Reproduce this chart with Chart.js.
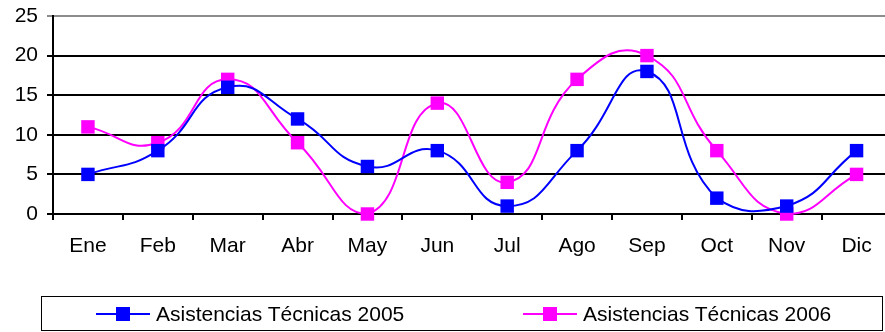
<!DOCTYPE html>
<html>
<head>
<meta charset="utf-8">
<script src="https://cdn.jsdelivr.net/npm/chart.js@4"></script>
<style>
	html, body { margin: 0; padding: 0; background: #fff; overflow: hidden; }
	.wrap { position: relative; width: 901px; height: 332px; overflow: hidden; }
	.wrap canvas { position: absolute; left: 0; top: 0; }
	.legend {
		position: absolute; left: 41px; top: 296px; width: 840px; height: 33px;
		border: 1.5px solid #000; box-sizing: content-box;
		font-family: "Liberation Sans", Arial, sans-serif; font-size: 21px; color: #000;
	}
	.legend .item { position: absolute; top: 0; height: 33px; display: flex; align-items: center; }
	.legend .sym { position: relative; width: 54px; height: 14px; margin-right: 6px; }
	.legend .sym .ln { position: absolute; left: 0; right: 0; top: 6px; height: 2px; }
	.legend .sym .mk { position: absolute; left: 20px; top: 0; width: 14px; height: 14px; }
</style>
</head>
<body>
<div class="wrap">
	<canvas id="chart" width="901" height="332"></canvas>
	<div class="legend" id="legend"></div>
</div>
<script>
const meses = ['Ene', 'Feb', 'Mar', 'Abr', 'May', 'Jun', 'Jul', 'Ago', 'Sep', 'Oct', 'Nov', 'Dic'];
const asistencias2005 = [5, 8, 16, 12, 6, 8, 1, 8, 18, 2, 1, 8];
const asistencias2006 = [11, 9, 17, 9, 0, 14, 4, 17, 20, 8, 0, 5];
const yTicks = [0, 5, 10, 15, 20, 25];

const series = [
	{label: 'Asistencias Técnicas 2005', data: asistencias2005, color: '#0000ff'},
	{label: 'Asistencias Técnicas 2006', data: asistencias2006, color: '#ff00ff'},
];

const font = {family: '"Liberation Sans", Arial, sans-serif', size: 21};

const ctx = document.getElementById('chart').getContext('2d');
new Chart(ctx, {
	type: 'line',
	data: {
		labels: meses,
		datasets: series.map(s => ({
			label: s.label,
			data: s.data,
			borderColor: s.color,
			backgroundColor: s.color,
			borderWidth: 2,
			tension: 0.5,
			pointStyle: 'rect',
			pointRadius: 9.5,
			pointHoverRadius: 9.5,
			pointBorderWidth: 0,
			clip: false,
		})),
	},
	options: {
		responsive: false,
		animation: false,
		events: [],
		layout: {padding: {top: 16, right: 0, bottom: 68, left: 0}},
		plugins: {legend: {display: false}, tooltip: {enabled: false}},
		scales: {
			x: {
				offset: true,
				grid: {
					offset: true,
					drawOnChartArea: false,
					drawTicks: true,
					tickLength: 6,
					color: '#000',
					lineWidth: 2,
				},
				border: {color: '#000', width: 2},
				ticks: {color: '#000', font: font, padding: 14, maxRotation: 0, autoSkip: false},
				afterFit: scale => { scale.height = 50; },
			},
			y: {
				min: 0,
				max: 25,
				afterBuildTicks: scale => { scale.ticks = yTicks.map(v => ({value: v})); },
				grid: {
					color: c => (c.tick && c.tick.value === 25 ? '#8c8c8c' : '#000'),
					lineWidth: 2,
					tickLength: 6,
				},
				border: {color: '#000', width: 2},
				ticks: {color: '#000', font: font, padding: 9},
				afterFit: scale => {
					scale.width = 53;
					scale.paddingTop = 0;
					scale.paddingBottom = 0;
				},
			},
		},
	},
});

// legend below the plot, built from the same series
const legend = document.getElementById('legend');
const legendX = [54, 481];
series.forEach((s, i) => {
	const item = document.createElement('div');
	item.className = 'item';
	item.style.left = legendX[i] + 'px';
	item.innerHTML = '<span class="sym"><span class="ln" style="background:' + s.color + '"></span>' +
		'<span class="mk" style="background:' + s.color + '"></span></span><span>' + s.label + '</span>';
	legend.appendChild(item);
});
</script>
</body>
</html>
